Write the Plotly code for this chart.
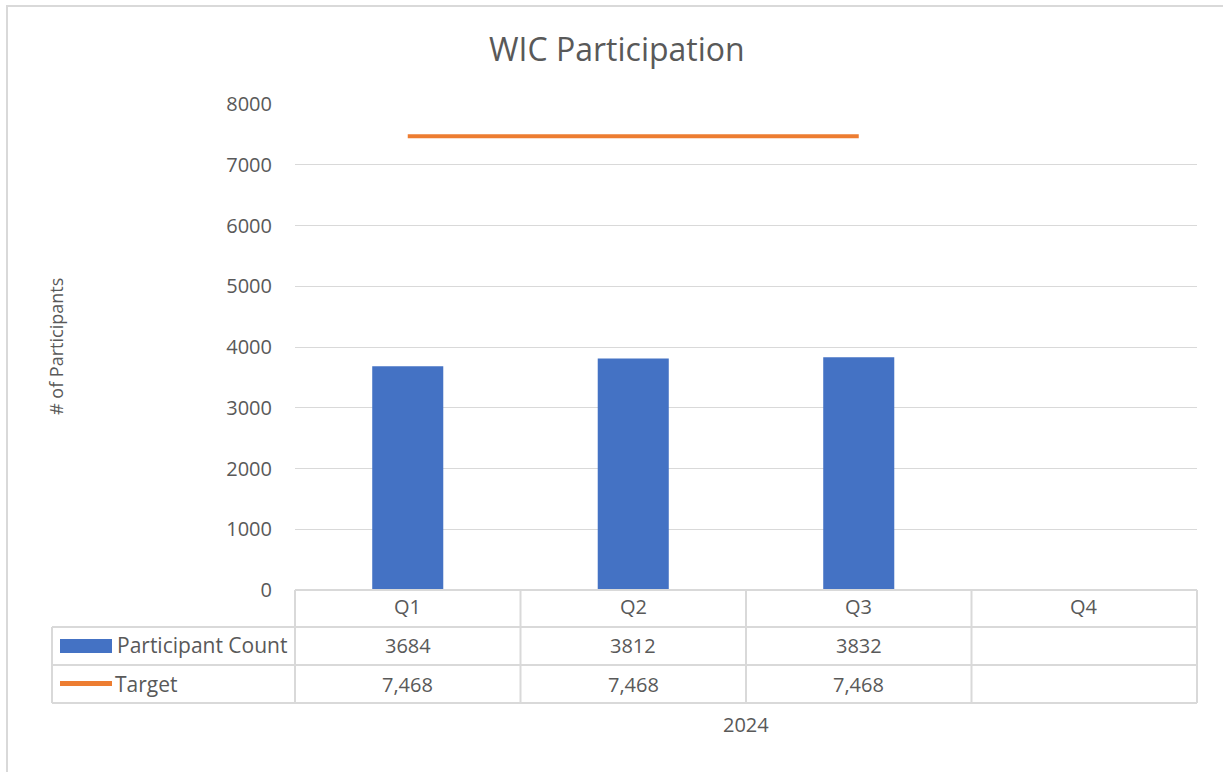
import plotly.graph_objects as go

categories = ["Q1", "Q2", "Q3", "Q4"]
participant_count = [3684, 3812, 3832, None]
target = [7468, 7468, 7468, None]
year_label = "2024"
y_ticks = [0, 1000, 2000, 3000, 4000, 5000, 6000, 7000, 8000]

W, H = 1223, 772
L, R, T, B = 295, 1197, 104, 590
FONT = "Open Sans"
GRAY = "#595959"
LINE = "#d9d9d9"
BLUE = "#4472C4"
ORANGE = "#ED7D31"
FS = 20

def px(xp):
    return (xp - L) / (R - L)

def py(yp):
    return (B - yp) / (B - T)

fig = go.Figure()
fig.add_trace(go.Bar(x=categories, y=participant_count, name="Participant Count",
                     marker=dict(color=BLUE, line=dict(width=0)), width=0.315))
fig.add_trace(go.Scatter(x=categories, y=target, name="Target", mode="lines",
                         line=dict(color=ORANGE, width=4), connectgaps=False))

shapes = []
# outer chart frame
shapes.append(dict(type="rect", xref="paper", yref="paper", x0=px(7), x1=px(1240),
                   y0=py(6), y1=py(790), line=dict(color=LINE, width=2)))
# table horizontal lines
row_y = [590, 627, 665, 703]
for i, yy in enumerate(row_y):
    x0 = L if i == 0 else 52
    shapes.append(dict(type="line", xref="paper", yref="paper", x0=px(x0), x1=1,
                       y0=py(yy), y1=py(yy), line=dict(color=LINE, width=2)))
# table vertical lines
for k in range(len(categories) + 1):
    shapes.append(dict(type="line", xref="paper", yref="paper", x0=k / len(categories),
                       x1=k / len(categories), y0=py(590), y1=py(703),
                       line=dict(color=LINE, width=2)))
shapes.append(dict(type="line", xref="paper", yref="paper", x0=px(52), x1=px(52),
                   y0=py(627), y1=py(703), line=dict(color=LINE, width=2)))
# legend keys
shapes.append(dict(type="rect", xref="paper", yref="paper", x0=px(60), x1=px(112),
                   y0=py(653), y1=py(639), fillcolor=BLUE, line=dict(width=0)))
shapes.append(dict(type="line", xref="paper", yref="paper", x0=px(60), x1=px(112),
                   y0=py(683.5), y1=py(683.5), line=dict(color=ORANGE, width=5)))

def txt(x, y, text, size=FS, xref="paper", xanchor="center", angle=0):
    return dict(x=x, xref=xref, y=py(y), yref="paper", text=text, showarrow=False,
                xanchor=xanchor, yanchor="middle", textangle=angle,
                font=dict(size=size, color=GRAY, family=FONT))

ann = []
for c, v, t in zip(categories, participant_count, target):
    ann.append(txt(c, 606, c, xref="x"))
    ann.append(txt(c, 645, "" if v is None else f"{v}", xref="x"))
    ann.append(txt(c, 684, "" if t is None else f"{t:,}", xref="x"))
ann.append(txt(px(115), 645, "Participant Count", size=21, xanchor="left"))
ann.append(txt(px(113), 684, "Target", size=21, xanchor="left"))
ann.append(txt(px(746), 724, year_label))
ann.append(txt(px(56), 347, "# of Participants", size=18, angle=-90))
ann.append(txt(px(617), 48, "WIC Participation", size=32))

fig.update_layout(
    width=W, height=H,
    margin=dict(l=L, r=W - R, t=T, b=H - B),
    paper_bgcolor="white", plot_bgcolor="white",
    showlegend=False,
    shapes=shapes, annotations=ann,
    xaxis=dict(type="category", categoryarray=categories, range=[-0.5, 3.5],
               showticklabels=False, showgrid=False, zeroline=False, showline=False,
               ticks=""),
    yaxis=dict(range=[0, 8000], tickvals=y_ticks, showgrid=True, gridcolor=LINE,
               gridwidth=1, zeroline=False, showline=False, ticks="",
               tickfont=dict(size=FS, color=GRAY, family=FONT), ticklabelstandoff=22),
)
fig.write_html("out.html", config={"displayModeBar": False},
               post_script="document.body.style.margin='0';document.body.style.overflow='hidden';")
